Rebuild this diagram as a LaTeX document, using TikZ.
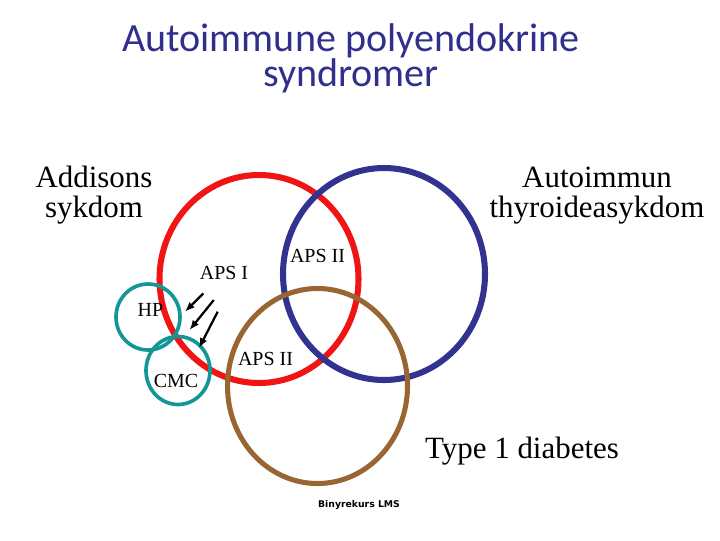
\documentclass[tikz,border=0pt]{standalone}
\usepackage{fontspec}
\usepackage{tikz}
\usepackage{xcolor}
\usetikzlibrary{arrows.meta}
\setmainfont{Liberation Serif}
\newfontfamily\titlefont{Carlito}
\newfontfamily\notefont{DejaVu Sans}
\definecolor{titleblue}{RGB}{48,48,140}
\definecolor{apsred}{RGB}{240,20,20}
\definecolor{apsblue}{RGB}{50,50,145}
\definecolor{apsbrown}{RGB}{153,102,51}
\definecolor{apsteal}{RGB}{20,150,150}

\begin{document}
\begin{tikzpicture}[
    x=0.025cm, y=-0.025cm,
    ring/.style={line width=#1},
    lbl/.style={anchor=base, inner sep=0pt, font=\fontsize{14.2}{16}\selectfont},
    big/.style={anchor=base, inner sep=0pt, align=center,
                font=\fontsize{22}{21.3}\selectfont},
    pil/.style={-{Latex[length=7pt, width=5.5pt]}, line width=1.6pt}
]
\useasboundingbox (0,0) rectangle (720,540);
% tittel
\node[anchor=base, inner sep=0pt, align=center, text=titleblue,
      font=\titlefont\fontsize{28.5}{24.4}\selectfont] (title) at (351,86)
    {Autoimmune polyendokrine\\syndromer};
% sirkler
\draw[ring=4.3pt, apsred] (259,279) ellipse [x radius=99.5, y radius=104];
\draw[ring=4.3pt, apsblue] (384,274) ellipse [x radius=101, y radius=106];
\draw[ring=3.6pt, apsbrown] (317.5,386) ellipse [x radius=90, y radius=97.5];
\draw[ring=2.6pt, apsteal] (148,317) ellipse [x radius=32, y radius=33];
\draw[ring=2.6pt, apsteal] (178,370.5) ellipse [x radius=32, y radius=34];
% tekster
\node[big] (addison) at (94,217) {Addisons\\sykdom};
\node[big] (thyroid) at (597,217) {Autoimmun\\thyroideasykdom};
\node[big] (diabetes) at (522,458.3) {Type 1 diabetes};
\node[lbl] (apsI) at (224,279.3) {APS I};
\node[lbl] (apsIIa) at (317.5,262.7) {APS II};
\node[lbl] (apsIIb) at (265.5,365) {APS II};
\node[lbl] (hp) at (150.5,316) {HP};
\node[lbl] (cmc) at (176,387.3) {CMC};
\node[anchor=base, inner sep=0pt, font=\notefont\bfseries\fontsize{6.6}{8}\selectfont]
    (kurs) at (359,507.5) {Binyrekurs LMS};
% piler
\foreach \i/\xa/\ya/\xb/\yb in {1/203.3/293.5/185/311.7, 2/213.8/300/189.5/330,
                                3/217.7/311.7/199/348}{
    \coordinate (s\i) at (\xa,\ya);
    \coordinate (e\i) at (\xb,\yb);
    \draw[pil] (s\i) -- (e\i);
}
\end{tikzpicture}
\end{document}
